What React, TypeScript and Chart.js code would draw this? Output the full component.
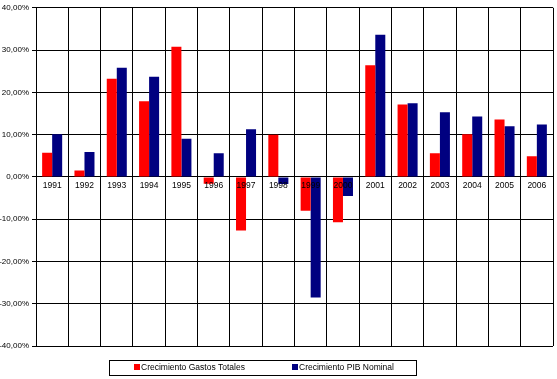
import React, { useEffect, useRef } from "react";
import { Chart, registerables } from "chart.js";

Chart.register(...registerables);

const categories = ["1991","1992","1993","1994","1995","1996","1997","1998","1999","2000","2001","2002","2003","2004","2005","2006"];
const gastosTotales = [5.7, 1.5, 23.2, 17.9, 30.8, -1.6, -12.7, 10.0, -8.0, -10.7, 26.4, 17.1, 5.6, 10.1, 13.6, 4.9];
const pibNominal = [10.1, 5.9, 25.8, 23.7, 9.0, 5.6, 11.3, -1.7, -28.5, -4.5, 33.6, 17.4, 15.3, 14.3, 12.0, 12.4];
const seriesLabels = ["Crecimiento Gastos Totales", "Crecimiento PIB Nominal"];
const seriesColors = ["#FF0000", "#000080"];

const FONT = "'Liberation Sans', Arial, sans-serif";

const legendPlugin = {
  id: "boxLegend",
  afterDraw(chart: any) {
    const ctx = chart.ctx;
    ctx.save();
    ctx.strokeStyle = "#000";
    ctx.lineWidth = 1;
    ctx.strokeRect(109.5, 360.5, 307, 15);
    const xs = [134, 292];
    ctx.font = `8.5px ${FONT}`;
    ctx.textBaseline = "middle";
    ctx.textAlign = "left";
    chart.data.datasets.forEach((ds: any, i: number) => {
      ctx.fillStyle = ds.backgroundColor;
      ctx.fillRect(xs[i], 364, 6, 6);
      ctx.fillStyle = "#000";
      ctx.fillText(ds.label, xs[i] + 7, 367.5);
    });
    ctx.restore();
  },
};

export default function App() {
  const ref = useRef<HTMLCanvasElement | null>(null);
  useEffect(() => {
    if (!ref.current) return;
    const chart = new Chart(ref.current, {
      type: "bar",
      data: {
        labels: categories,
        datasets: [
          { label: seriesLabels[0], data: gastosTotales, backgroundColor: seriesColors[0], categoryPercentage: 0.62, barPercentage: 1.0 },
          { label: seriesLabels[1], data: pibNominal, backgroundColor: seriesColors[1], categoryPercentage: 0.62, barPercentage: 1.0 },
        ],
      },
      options: {
        responsive: false,
        animation: false,
        layout: { padding: { left: 0, right: 4, top: 6, bottom: 33 } },
        plugins: { legend: { display: false }, tooltip: { enabled: false } },
        scales: {
          x: {
            position: { y: 0 } as any,
            offset: true,
            grid: { color: "#000", lineWidth: 1, offset: true, drawTicks: false },
            border: { color: "#000" },
            ticks: { z: 1, color: "#000", font: { size: 8.5, family: FONT }, padding: 4, maxRotation: 0, autoSkip: false },
          },
          y: {
            min: -40,
            max: 40,
            afterFit: (s: any) => { s.width = 36; },
            grid: { color: "#000", lineWidth: 1, tickLength: 4 },
            border: { color: "#000" },
            ticks: {
              stepSize: 10,
              color: "#000",
              padding: 3,
              font: { size: 8, family: FONT },
              callback: (v: any) => Number(v).toFixed(2).replace(".", ",") + "%",
            },
          },
        },
      },
      plugins: [legendPlugin],
    });
    return () => chart.destroy();
  }, []);
  return (
    <div style={{ position: "fixed", left: 0, top: 0, width: 557, height: 379, background: "#fff" }}>
      <canvas ref={ref} width={557} height={379} style={{ display: "block" }} />
    </div>
  );
}
